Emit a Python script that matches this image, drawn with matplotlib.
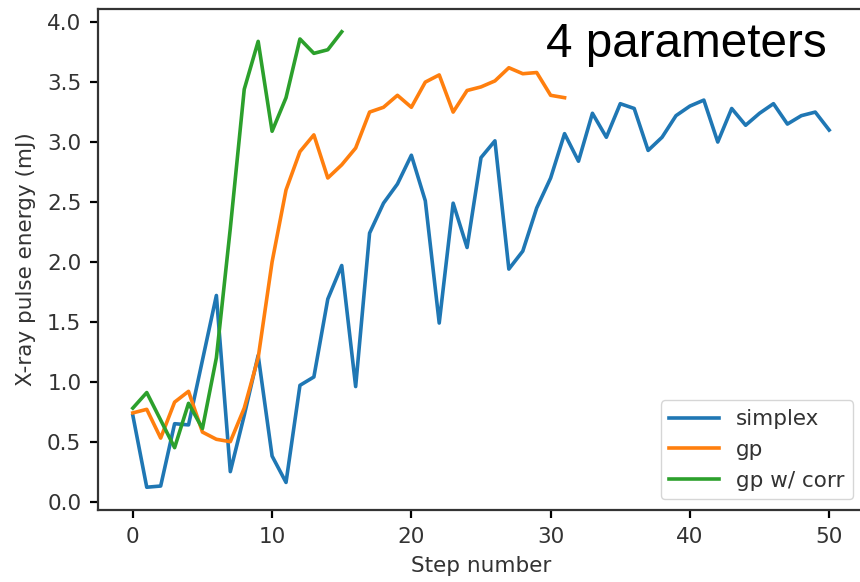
import numpy as np
import matplotlib
matplotlib.use('Agg')
import matplotlib.pyplot as plt

simplex = [0.72, 0.12, 0.13, 0.65, 0.64, 1.18, 1.72, 0.25, 0.72, 1.22,
           0.38, 0.16, 0.97, 1.04, 1.69, 1.97, 0.96, 2.24, 2.49, 2.65,
           2.89, 2.51, 1.49, 2.49, 2.12, 2.87, 3.01, 1.94, 2.09, 2.45,
           2.70, 3.07, 2.84, 3.24, 3.04, 3.32, 3.28, 2.93, 3.04, 3.22,
           3.30, 3.35, 3.00, 3.28, 3.14, 3.24, 3.32, 3.15, 3.22, 3.25,
           3.10]
gp = [0.74, 0.77, 0.53, 0.83, 0.92, 0.58, 0.52, 0.50, 0.78, 1.20,
      2.00, 2.60, 2.92, 3.06, 2.70, 2.81, 2.95, 3.25, 3.29, 3.39,
      3.29, 3.50, 3.56, 3.25, 3.43, 3.46, 3.51, 3.62, 3.57, 3.58,
      3.39, 3.37]
gp_corr = [0.78, 0.91, 0.68, 0.45, 0.82, 0.61, 1.20, 2.28, 3.44, 3.84,
           3.09, 3.37, 3.86, 3.74, 3.77, 3.92]
labels = ['simplex', 'gp', 'gp w/ corr']
xticks = [0, 10, 20, 30, 40, 50]
yticks = [0.0, 0.5, 1.0, 1.5, 2.0, 2.5, 3.0, 3.5, 4.0]

text_col = '#333333'
plt.rcParams['font.size'] = 15.5
plt.rcParams['text.color'] = text_col
plt.rcParams['axes.labelcolor'] = text_col
plt.rcParams['xtick.labelcolor'] = text_col
plt.rcParams['ytick.labelcolor'] = text_col
plt.rcParams['axes.edgecolor'] = '#333333'
plt.rcParams['axes.linewidth'] = 1.6
plt.rcParams['xtick.major.width'] = 1.6
plt.rcParams['ytick.major.width'] = 1.6
plt.rcParams['xtick.major.size'] = 6
plt.rcParams['ytick.major.size'] = 6
plt.rcParams['xtick.major.pad'] = 6
plt.rcParams['ytick.major.pad'] = 6

fig = plt.figure(figsize=(8.6, 5.82), dpi=100)
# axes run slightly past the right edge, as in the cropped original
ax = fig.add_axes([98 / 860, 72 / 582, 766 / 860, 501 / 582])

for series, label in zip([simplex, gp, gp_corr], labels):
    ax.plot(np.arange(len(series)), series, lw=2.6, label=label)

ax.set_xticks(xticks)
ax.set_yticks(yticks)
ax.set_xlabel('Step number', labelpad=7)
ax.set_ylabel('X-ray pulse energy (mJ)', labelpad=8)
ax.spines['right'].set_visible(False)

ax.legend(loc='lower right', handlelength=2.3, labelspacing=0.5,
          borderaxespad=0.5)

fig.text(546 / 860, 1 - 57 / 582, '4 parameters', fontsize=34.3,
         color='black', family='Liberation Sans', ha='left', va='baseline')

fig.savefig('out.png', dpi=100)
